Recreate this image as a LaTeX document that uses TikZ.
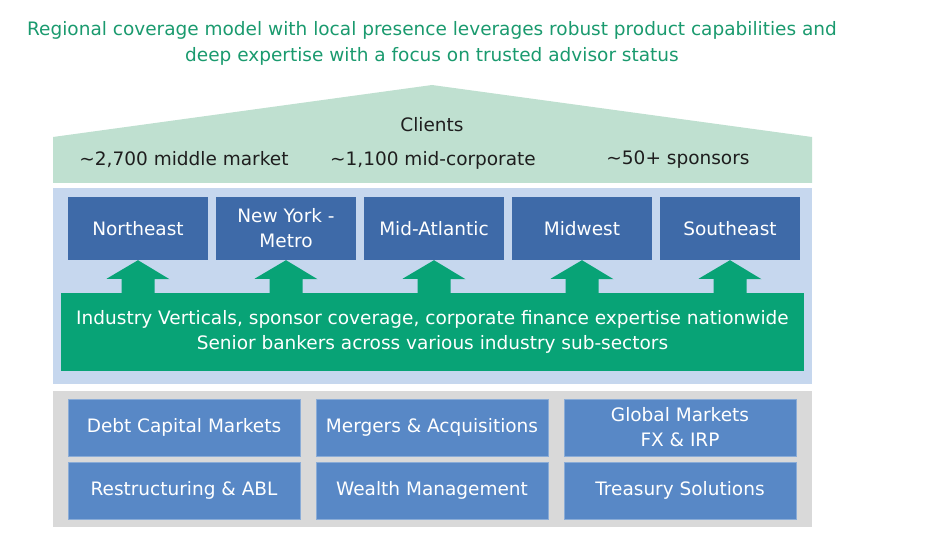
\documentclass[tikz,border=0pt]{standalone}
\usepackage{fontspec}
\setmainfont{DejaVu Sans}
\definecolor{titlegreen}{RGB}{26,154,110}
\definecolor{roofgreen}{RGB}{191,224,208}
\definecolor{panelblue}{RGB}{198,215,238}
\definecolor{regionblue}{RGB}{62,106,168}
\definecolor{bannergreen}{RGB}{8,163,118}
\definecolor{panelgray}{RGB}{217,217,217}
\definecolor{serviceblue}{RGB}{88,136,198}
\definecolor{textdark}{RGB}{30,30,30}
\newcommand{\txtsize}{\fontsize{18.5}{25}\selectfont}
\tikzset{
  regionbox/.style={fill=regionblue, text=white, minimum width=140pt, minimum height=63pt, inner sep=0pt, align=center, font=\txtsize},
  servicebox/.style={fill=serviceblue, draw=serviceblue!70!white, line width=0.8pt, text=white, minimum width=232pt, minimum height=57pt, inner sep=0pt, align=center, font=\txtsize},
  blockarrow/.style={fill=bannergreen},
  lbl/.style={text=textdark, font=\txtsize, inner sep=0pt}
}
\begin{document}
\begin{tikzpicture}[x=1pt,y=-1pt]
\useasboundingbox (0,0) rectangle (927,545);
% title
\node[text=titlegreen, font=\fontsize{18.5}{26}\selectfont, align=center, inner sep=0pt] (title) at (432,43)
  {Regional coverage model with local presence leverages robust product capabilities and\\deep expertise with a focus on trusted advisor status};
% roof
\fill[roofgreen] (53,183) -- (53,137) -- (432,85) -- (812,137) -- (812,183) -- cycle;
\node[lbl] (clients) at (432,125) {Clients};
\node[lbl] (mm) at (184,160) {\textasciitilde2,700 middle market};
\node[lbl] (mc) at (433,160) {\textasciitilde1,100 mid-corporate};
\node[lbl] (sp) at (678,160) {\textasciitilde50+ sponsors};
% blue panel
\fill[panelblue] (53,188) rectangle (812,384);
% regions
\node[regionbox] (ne) at (138,228.5) {Northeast};
\node[regionbox] (ny) at (286,228.5) {New York -\\Metro};
\node[regionbox] (ma) at (434,228.5) {Mid-Atlantic};
\node[regionbox] (mw) at (582,228.5) {Midwest};
\node[regionbox] (se) at (730,228.5) {Southeast};
% banner
\node[fill=bannergreen, text=white, minimum width=743pt, minimum height=78pt, inner sep=0pt, align=center, font=\txtsize] (banner) at (432.5,332)
  {Industry Verticals, sponsor coverage, corporate finance expertise nationwide\\Senior bankers across various industry sub-sectors};
% arrows
\foreach \b in {ne,ny,ma,mw,se}{
  \fill[blockarrow] (\b.south) -- ++(31.5,19) -- ++(-15,0) |- (banner.north -| \b.south) -- ++(-16.5,0) -- ++(0,-14) -- ++(-15,0) -- cycle;
}
% gray panel
\fill[panelgray] (53,391) rectangle (812,527);
\node[servicebox] (dcm) at (184,427.5) {Debt Capital Markets};
\node[servicebox] (mna) at (432,427.5) {Mergers \& Acquisitions};
\node[servicebox] (gm) at (680,427.5) {Global Markets\\FX \& IRP};
\node[servicebox] (rab) at (184,490.5) {Restructuring \& ABL};
\node[servicebox] (wm) at (432,490.5) {Wealth Management};
\node[servicebox] (ts) at (680,490.5) {Treasury Solutions};
\end{tikzpicture}
\end{document}
